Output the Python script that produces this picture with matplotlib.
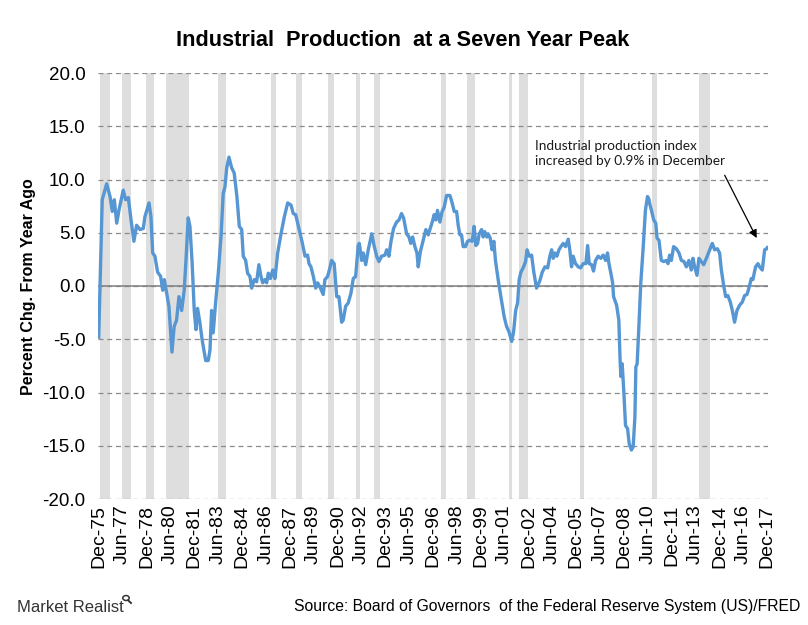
import matplotlib
matplotlib.use("Agg")
import matplotlib.pyplot as plt
from matplotlib.patches import Circle
from matplotlib.lines import Line2D

plt.rcParams["font.family"] = ["Liberation Sans", "DejaVu Sans"]

# Industrial production, percent change from year ago
dates = [
    1975.92, 1976.14, 1976.42, 1976.63, 1976.77, 1976.90, 1977.05, 1977.19, 1977.46, 1977.61,
    1977.78, 1977.95, 1978.13, 1978.30, 1978.51, 1978.72, 1978.82, 1979.08, 1979.20, 1979.31,
    1979.45, 1979.62, 1979.81, 1979.94, 1980.04, 1980.19, 1980.33, 1980.52, 1980.66, 1980.81,
    1980.96, 1981.13, 1981.29, 1981.40, 1981.54, 1981.65, 1981.79, 1981.92, 1982.03, 1982.13,
    1982.28, 1982.42, 1982.64, 1982.80, 1982.91, 1983.01, 1983.11, 1983.26, 1983.43, 1983.60,
    1983.74, 1983.85, 1983.96, 1984.10, 1984.27, 1984.43, 1984.60, 1984.75, 1984.90, 1985.00,
    1985.15, 1985.27, 1985.42, 1985.53, 1985.69, 1985.84, 1985.98, 1986.11, 1986.22, 1986.36,
    1986.47, 1986.57, 1986.70, 1986.85, 1986.99, 1987.16, 1987.37, 1987.58, 1987.79, 1988.00,
    1988.14, 1988.29, 1988.45, 1988.67, 1988.88, 1989.04, 1989.13, 1989.25, 1989.40, 1989.55,
    1989.67, 1989.82, 1990.02, 1990.13, 1990.30, 1990.44, 1990.55, 1990.71, 1990.87, 1991.01,
    1991.18, 1991.28, 1991.43, 1991.59, 1991.76, 1991.91, 1992.06, 1992.22, 1992.29, 1992.44,
    1992.54, 1992.69, 1992.85, 1993.07, 1993.23, 1993.38, 1993.52, 1993.69, 1993.90, 1994.01,
    1994.15, 1994.28, 1994.44, 1994.63, 1994.78, 1994.94, 1995.07, 1995.26, 1995.41, 1995.52,
    1995.64, 1995.78, 1995.91, 1995.99, 1996.12, 1996.30, 1996.47, 1996.62, 1996.72, 1996.87,
    1996.99, 1997.10, 1997.20, 1997.35, 1997.49, 1997.62, 1997.77, 1997.98, 1998.12, 1998.25,
    1998.40, 1998.50, 1998.61, 1998.71, 1998.81, 1998.96, 1999.09, 1999.23, 1999.38, 1999.50,
    1999.61, 1999.72, 1999.82, 1999.97, 2000.07, 2000.17, 2000.30, 2000.38, 2000.51, 2000.63,
    2000.74, 2000.84, 2001.01, 2001.18, 2001.39, 2001.54, 2001.69, 2001.86, 2001.98, 2002.11,
    2002.23, 2002.33, 2002.44, 2002.61, 2002.73, 2002.83, 2002.96, 2003.11, 2003.25, 2003.42,
    2003.63, 2003.78, 2003.95, 2004.12, 2004.26, 2004.37, 2004.47, 2004.58, 2004.70, 2004.83,
    2004.95, 2005.10, 2005.24, 2005.41, 2005.51, 2005.62, 2005.72, 2005.87, 2006.04, 2006.19,
    2006.35, 2006.52, 2006.63, 2006.73, 2006.88, 2007.00, 2007.13, 2007.29, 2007.46, 2007.61,
    2007.76, 2007.88, 2007.97, 2008.09, 2008.20, 2008.26, 2008.45, 2008.59, 2008.67, 2008.72,
    2008.80, 2008.91, 2009.01, 2009.14, 2009.24, 2009.38, 2009.49, 2009.60, 2009.66, 2009.74,
    2009.84, 2009.97, 2010.11, 2010.26, 2010.39, 2010.47, 2010.55, 2010.64, 2010.78, 2010.91,
    2010.99, 2011.11, 2011.26, 2011.41, 2011.58, 2011.68, 2011.78, 2011.89, 2012.03, 2012.20,
    2012.37, 2012.52, 2012.68, 2012.83, 2012.99, 2013.14, 2013.25, 2013.35, 2013.50, 2013.62,
    2013.77, 2013.92, 2014.09, 2014.25, 2014.46, 2014.61, 2014.78, 2014.92, 2015.03, 2015.17,
    2015.30, 2015.44, 2015.59, 2015.72, 2015.86, 2016.01, 2016.18, 2016.35, 2016.49, 2016.64,
    2016.76, 2016.91, 2017.01, 2017.18, 2017.33, 2017.43, 2017.60, 2017.75, 2017.89, 2017.92,
]
ip_yoy = [
    -4.8, 8.1, 9.6, 8.4, 7.0, 8.1, 5.9, 7.1, 9.0, 8.1,
    8.3, 6.2, 4.2, 5.7, 5.3, 5.4, 6.5, 7.8, 6.5, 3.1,
    2.8, 1.3, 0.9, -0.4, 0.6, -0.7, -1.9, -6.2, -3.8, -3.2,
    -1.0, -2.3, -0.4, 2.4, 6.4, 5.6, 2.1, -2.3, -4.1, -2.1,
    -3.5, -5.1, -7.0, -7.0, -6.0, -2.3, -4.4, -1.6, 1.2, 4.6,
    8.7, 9.3, 11.1, 12.1, 11.1, 10.6, 8.4, 5.6, 5.3, 2.8,
    2.4, 1.2, 0.9, -0.2, 0.6, 0.4, 2.0, 0.9, 0.3, 0.6,
    0.3, 1.2, 0.7, 1.5, 0.7, 3.1, 4.9, 6.5, 7.8, 7.6,
    6.8, 6.7, 5.7, 4.3, 2.8, 2.9, 2.1, 1.8, 0.9, -0.2,
    0.3, -0.1, -0.8, 0.6, 0.9, 1.7, 2.4, 2.1, -1.0, -1.0,
    -3.4, -3.2, -1.9, -1.6, -0.7, 0.7, 0.9, 3.8, 4.0, 2.4,
    3.1, 2.0, 3.4, 4.9, 3.7, 2.8, 2.3, 2.8, 2.9, 3.4,
    2.8, 4.2, 5.4, 6.0, 6.2, 6.8, 6.4, 4.9, 4.6, 4.0,
    4.6, 3.7, 3.1, 1.8, 3.2, 4.3, 5.3, 4.8, 5.3, 6.0,
    6.7, 6.2, 7.1, 6.0, 7.0, 7.4, 8.5, 8.5, 7.8, 7.0,
    7.0, 5.7, 4.8, 4.8, 3.7, 3.7, 4.2, 4.3, 4.2, 5.6,
    3.8, 4.0, 4.9, 5.3, 4.6, 5.1, 4.6, 4.9, 4.5, 3.4,
    4.2, 2.4, 0.6, -1.0, -2.9, -3.8, -4.3, -5.2, -4.3, -2.3,
    -1.6, 0.6, 1.3, 1.8, 2.3, 3.4, 2.8, 2.9, 1.3, -0.2,
    0.5, 1.3, 1.8, 1.7, 2.8, 3.4, 2.6, 3.1, 2.8, 3.4,
    3.7, 4.0, 3.7, 4.4, 3.4, 1.8, 2.8, 2.1, 1.8, 1.7,
    2.1, 2.1, 3.8, 2.1, 2.0, 1.4, 2.4, 2.8, 2.6, 2.9,
    2.4, 3.1, 2.1, 1.2, 0.3, -1.0, -1.8, -3.2, -7.0, -8.5,
    -7.3, -10.1, -13.1, -13.4, -14.8, -15.4, -15.1, -12.3, -7.6, -7.3,
    -4.1, 0.3, 3.4, 7.1, 8.4, 8.2, 7.6, 7.1, 6.2, 5.9,
    4.5, 4.3, 2.4, 2.3, 2.4, 2.1, 2.9, 2.4, 3.7, 3.5,
    3.1, 2.4, 2.3, 1.8, 2.4, 1.5, 2.6, 1.8, 1.0, 2.6,
    2.3, 2.0, 2.6, 3.2, 4.0, 3.4, 3.5, 3.1, 1.5, 0.1,
    -1.0, -0.9, -1.5, -2.3, -3.4, -2.3, -1.8, -1.5, -0.9, -0.8,
    -0.2, 0.7, 0.6, 1.8, 2.1, 1.8, 1.5, 3.4, 3.5, 3.6,
]

# shaded periods (start, end) in decimal years
shade_start = [1976.00, 1977.38, 1978.89, 1980.14, 1983.43, 1986.73, 1988.30, 1990.31, 1992.07,
               1993.20, 1997.39, 1999.06, 2001.69, 2002.32, 2006.13, 2010.69, 2013.60]
shade_end = [1976.63, 1977.93, 1979.39, 1981.60, 1983.91, 1987.03, 1988.72, 1990.69, 1992.36,
             1993.58, 1997.76, 1999.58, 2001.91, 2002.91, 2006.43, 2011.01, 2014.29]

x_labels = ["Dec-75", "Jun-77", "Dec-78", "Jun-80", "Dec-81", "Jun-83", "Dec-84", "Jun-86",
            "Dec-87", "Jun-89", "Dec-90", "Jun-92", "Dec-93", "Jun-95", "Dec-96", "Jun-98",
            "Dec-99", "Jun-01", "Dec-02", "Jun-04", "Dec-05", "Jun-07", "Dec-08", "Jun-10",
            "Dec-11", "Jun-13", "Dec-14", "Jun-16", "Dec-17"]
y_ticks = [-20, -15, -10, -5, 0, 5, 10, 15, 20]


def label_to_year(lbl):
    mon, yy = lbl.split("-")
    yr = int(yy) + (1900 if int(yy) > 50 else 2000)
    month = {"Jun": 6, "Dec": 12}[mon]
    return yr + (month - 1) / 12.0


fig = plt.figure(figsize=(8.08, 6.25), dpi=100)
ax = fig.add_axes([98 / 808, 1 - 499 / 625, 670 / 808, 426 / 625])

for s, e in zip(shade_start, shade_end):
    ax.axvspan(s, e, color="#dedede", lw=0, zorder=0)

ax.set_yticks(y_ticks)
ax.yaxis.grid(True, linestyle=(0, (4, 3)), color="#8c8c8c", lw=0.9, zorder=1)
ax.axhline(0, color="#7f7f7f", lw=1.1, zorder=2)
ax.plot(dates, ip_yoy, color="#5596d3", lw=2.4, zorder=3, solid_joinstyle="round")

ax.set_xlim(1975.875, 2017.96)
ax.set_ylim(-20, 20)
ax.set_xticks([label_to_year(l) for l in x_labels])
ax.set_xticklabels(x_labels, rotation=90, fontsize=14)
ax.set_yticklabels([f"{v:.1f}" for v in y_ticks], fontsize=13.5)
ax.tick_params(axis="both", length=0)
ax.tick_params(axis="x", pad=4)
ax.tick_params(axis="y", pad=9)
for sp in ax.spines.values():
    sp.set_visible(False)

ax.annotate("", xy=(2017.25, 4.5), xytext=(2015.24, 10.4),
            arrowprops=dict(arrowstyle="-|>", color="black", lw=0.9,
                            mutation_scale=12, shrinkA=0, shrinkB=0))
ax.text(2003.3, 12.45, "Industrial production index\nincreased by 0.9% in December",
        ha="left", va="center", fontsize=9.8, family=["Lato", "DejaVu Sans"],
        linespacing=1.3, color="#1a1a1a")

fig.text(0.4988, 1 - 40 / 625, "Industrial  Production  at a Seven Year Peak",
         ha="center", va="center", fontsize=15.7, fontweight="bold")
fig.text(28 / 808, 1 - 287 / 625, "Percent Chg. From Year Ago", rotation=90,
         ha="center", va="center", fontsize=11.5, fontweight="bold")

fig.text(800 / 808, 1 - 606 / 625,
         "Source: Board of Governors  of the Federal Reserve System (US)/FRED",
         ha="right", va="center", fontsize=11.3)
fig.text(17 / 808, 1 - 607 / 625, "Market Realist", ha="left", va="center",
         fontsize=12, color="#333333")

# small magnifier mark next to the logo text
fig.patches.append(Circle((126 / 808, 1 - 598 / 625), 3.2 / 808, transform=fig.transFigure,
                          fill=False, ec="#333333", lw=1.1))
fig.lines.append(Line2D([128.3 / 808, 131 / 808], [1 - 600.5 / 625, 1 - 603 / 625],
                        transform=fig.transFigure, color="#333333", lw=1.4))

fig.savefig("out.png", dpi=100)
